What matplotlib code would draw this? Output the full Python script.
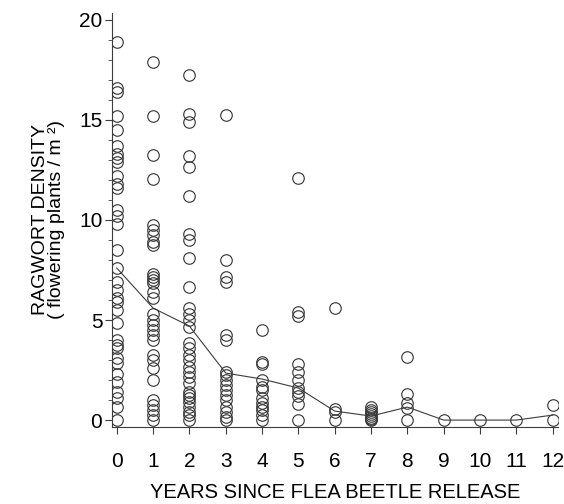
import matplotlib
matplotlib.use("Agg")
import matplotlib.pyplot as plt
from matplotlib.ticker import MultipleLocator

plt.rcParams['font.family'] = ['Liberation Sans', 'DejaVu Sans']

# ragwort density per site, grouped by years since flea beetle release
years = list(range(13))
density = [
    [18.9, 16.6, 16.4, 15.2, 14.5, 13.7, 13.3, 13.1, 12.9, 12.2, 11.8, 11.6,
     10.5, 10.2, 9.8, 8.5, 7.6, 6.9, 6.5, 6.1, 5.9, 5.5, 4.85, 4.0, 3.75,
     3.6, 3.1, 2.85, 2.3, 1.9, 1.4, 1.1, 0.65, 0.0],
    [17.9, 15.2, 13.25, 12.05, 9.75, 9.5, 9.25, 8.9, 8.75, 7.3, 7.15, 7.0,
     6.85, 6.4, 6.1, 5.3, 5.0, 4.75, 4.5, 4.25, 4.0, 3.25, 3.0, 2.6, 2.0,
     1.0, 0.75, 0.5, 0.25, 0.0],
    [17.25, 15.3, 14.9, 13.2, 12.65, 11.2, 9.3, 9.0, 8.1, 6.65, 5.6, 5.3,
     5.0, 4.65, 3.85, 3.6, 3.25, 3.0, 2.65, 2.4, 2.15, 1.85, 1.4, 1.25, 1.1,
     0.9, 0.65, 0.4, 0.25, 0.0],
    [15.25, 8.0, 7.15, 6.9, 4.25, 4.0, 2.4, 2.25, 2.0, 1.75, 1.5, 1.25, 1.0,
     0.65, 0.4, 0.15, 0.0],
    [4.5, 2.9, 2.8, 2.0, 1.65, 1.5, 1.1, 0.85, 0.65, 0.5, 0.25, 0.0],
    [12.1, 5.4, 5.2, 2.8, 2.4, 2.0, 1.6, 1.4, 1.2, 0.8, 0.0],
    [5.6, 0.55, 0.4, 0.0],
    [0.65, 0.5, 0.4, 0.3, 0.2, 0.1, 0.05, 0.0],
    [3.15, 1.3, 0.85, 0.6, 0.0],
    [0.0],
    [0.0],
    [0.0],
    [0.75, 0.0],
]
# yearly average line
avg_density = [7.6, 5.6, 4.7, 2.35, 2.05, 1.6, 0.45, 0.2, 0.65, 0.0, 0.0, 0.0, 0.25]

fig = plt.figure(figsize=(5.64, 5.04), dpi=100)
ax = fig.add_axes([0.1986, 0.1534, 0.791, 0.821])

col = '#3c3c3c'
for yr, vals in zip(years, density):
    ax.plot([yr] * len(vals), vals, 'o', ms=8.3, mfc='none', mec=col, mew=0.85,
            linestyle='none', zorder=3)
ax.plot(years, avg_density, '-', color=col, lw=0.8, zorder=2)

ax.set_xlim(-0.13, 12.15)
ax.set_ylim(-0.33, 20.35)
ax.set_xticks(years)
ax.set_yticks([0, 5, 10, 15, 20])
ax.yaxis.set_minor_locator(MultipleLocator(1))

for s in ['top', 'right']:
    ax.spines[s].set_visible(False)
for s in ['left', 'bottom']:
    ax.spines[s].set_color(col)
    ax.spines[s].set_linewidth(0.8)

ax.tick_params(axis='x', length=5, width=0.8, color=col, labelsize=15, pad=13)
ax.tick_params(axis='y', which='major', length=5, width=0.8, color=col, labelsize=15, pad=2)
ax.tick_params(axis='y', which='minor', length=3, width=0.6, color=col)

ax.set_xlabel('YEARS SINCE FLEA BEETLE RELEASE', fontsize=14.5, labelpad=9)
ax.set_ylabel('RAGWORT DENSITY\n( flowering plants / m ²)', fontsize=14,
              labelpad=10, linespacing=0.9)

fig.savefig('out.png', dpi=100)
